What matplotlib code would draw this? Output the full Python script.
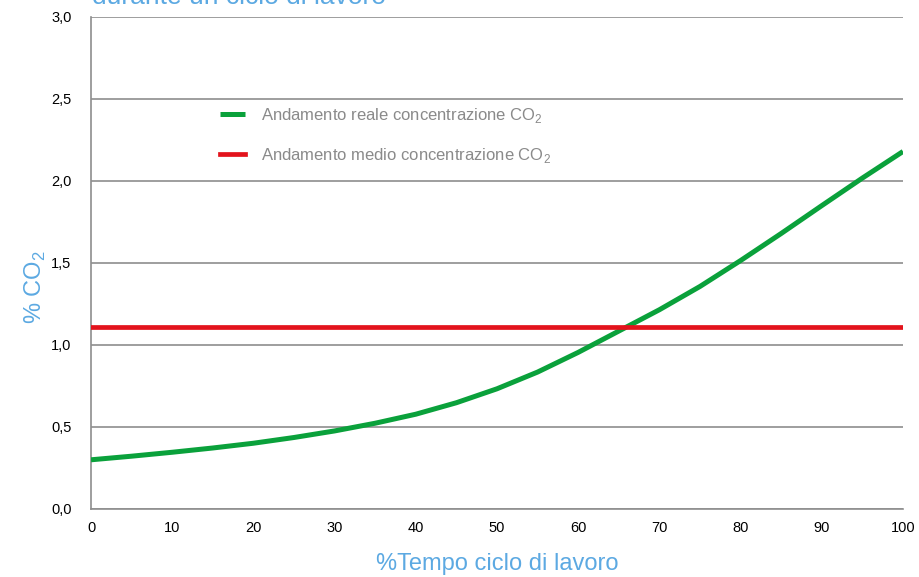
import matplotlib
matplotlib.use("Agg")
import matplotlib.pyplot as plt

# values
tempo = [0, 5, 10, 15, 20, 25, 30, 35, 40, 45, 50, 55, 60, 65, 70, 75, 80, 85, 90, 95, 100]
co2_reale = [0.30, 0.322, 0.346, 0.372, 0.401, 0.436, 0.476, 0.523, 0.578, 0.648, 0.733,
             0.835, 0.955, 1.085, 1.215, 1.357, 1.515, 1.68, 1.85, 2.018, 2.18]
co2_medio = 1.11
y_ticks = [0.0, 0.5, 1.0, 1.5, 2.0, 2.5, 3.0]
x_ticks = [0, 10, 20, 30, 40, 50, 60, 70, 80, 90, 100]

label_reale = "Andamento reale concentrazione CO$_2$"
label_medio = "Andamento medio concentrazione CO$_2$"
title = "durante un ciclo di lavoro"

GREEN = "#0aa13b"
RED = "#e3131c"
BLUE = "#5ca9e2"
GRID = "#8e8e8e"
LEGEND_TEXT = "#8a8a8a"

plt.rcParams["font.family"] = ["Liberation Sans", "DejaVu Sans"]
plt.rcParams["mathtext.fontset"] = "custom"
plt.rcParams["mathtext.rm"] = "Liberation Sans"

W, H = 919, 577
fig = plt.figure(figsize=(W / 100, H / 100), dpi=100)
ax = fig.add_axes([91 / W, (H - 509) / H, (903 - 91) / W, (509 - 17) / H])

ax.plot(tempo, co2_reale, color=GREEN, lw=3.6, label=label_reale, zorder=3,
        solid_capstyle="butt", solid_joinstyle="round")
ax.axhline(co2_medio, color=RED, lw=3.4, label=label_medio, zorder=3)

ax.set_xlim(0, 100)
ax.set_ylim(0, 3)
ax.set_xticks(x_ticks)
ax.set_yticks(y_ticks)
ax.set_xticklabels([str(v) for v in x_ticks], fontsize=10.5)
ax.set_yticklabels([f"{v:.1f}".replace(".", ",") for v in y_ticks], fontsize=10.5)
ax.tick_params(axis="both", length=0, colors="black")
ax.tick_params(axis="y", pad=14)
ax.tick_params(axis="x", pad=9)

ax.grid(axis="y", color=GRID, lw=1.2)
ax.set_axisbelow(True)
for side in ["top", "right"]:
    ax.spines[side].set_visible(False)
for side in ["left", "bottom"]:
    ax.spines[side].set_color(GRID)
    ax.spines[side].set_linewidth(1.2)

leg = ax.legend(loc="upper left", bbox_to_anchor=(220 / W, 1 - 106 / H),
                bbox_transform=fig.transFigure, frameon=False, borderpad=0,
                borderaxespad=0, fontsize=12, handlelength=1.5,
                handletextpad=0.95, labelspacing=1.25)
for t in leg.get_texts():
    t.set_color(LEGEND_TEXT)

fig.text(35 / W, 1 - 287 / H, "% CO$_2$", rotation=90, ha="center", va="center",
         color=BLUE, fontsize=17)
fig.text(497 / W, 1 - 564 / H, "%Tempo ciclo di lavoro", ha="center", va="center",
         color=BLUE, fontsize=17)
fig.text(92 / W, 1 - 4 / H, title, ha="left", va="baseline", color=BLUE,
         fontsize=19)

fig.savefig("out.png", dpi=100)
